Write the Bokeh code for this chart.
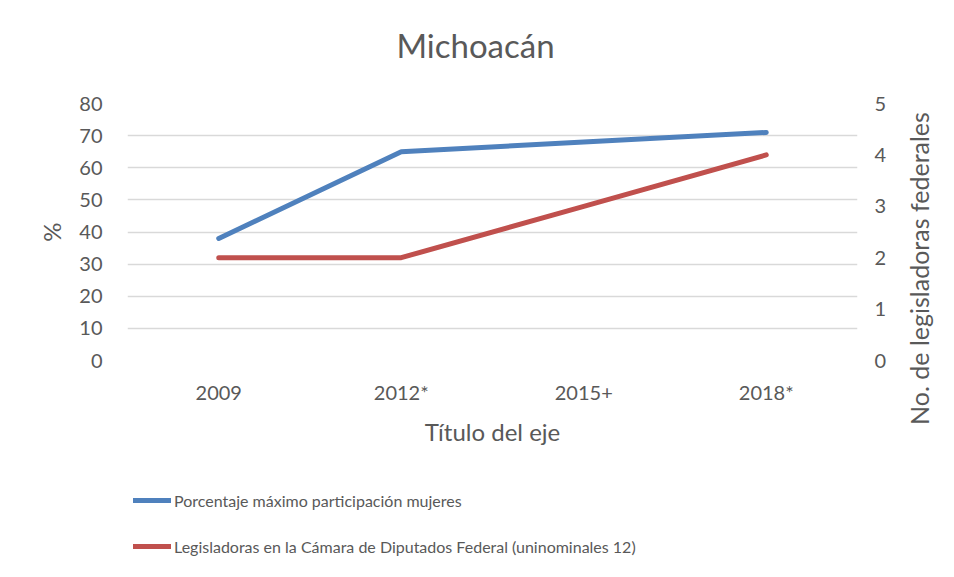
import math
from bokeh.plotting import figure
from bokeh.layouts import column, row
from bokeh.models import (Range1d, LinearAxis, FixedTicker, Legend, LegendItem, FactorRange,
                          Label)
from bokeh.embed import file_html
from bokeh.resources import INLINE

title_text = "Michoacán"
categories = ["2009", "2012*", "2015+", "2018*"]
pct_max = [38, 65, 68, 71]
legisladoras = [2, 2, 3, 4]
left_ticks = [0, 10, 20, 30, 40, 50, 60, 70, 80]
right_ticks = [0, 1, 2, 3, 4, 5]
series_names = ["Porcentaje máximo participación mujeres",
                "Legisladoras en la Cámara de Diputados Federal (uninominales 12)"]
colors = ["#4F81BD", "#C0504D"]
left_title = "%"
right_title = "No. de legisladoras federales"
x_title = "Título del eje"

FONT = "Lato"
GRAY = "#595959"


def blank(fig):
    fig.outline_line_color = None
    fig.grid.grid_line_color = None
    fig.border_fill_color = "white"
    fig.background_fill_color = "white"
    return fig


# header strip with the chart title
header = blank(figure(frame_width=730, frame_height=91, x_range=Range1d(0, 1), y_range=Range1d(0, 1),
                      min_border_left=127, min_border_right=89, min_border_top=0, min_border_bottom=0,
                      x_axis_type=None, y_axis_type=None, output_backend="svg", toolbar_location=None))
header.add_layout(Label(x=348, y=47, x_units="screen", y_units="screen", text=title_text,
                        text_align="center", text_baseline="middle", text_font=FONT,
                        text_font_size="33px", text_color=GRAY))

# main chart
p = figure(frame_width=730, frame_height=257, x_range=FactorRange(*categories, range_padding=0),
           y_range=Range1d(0, 80), output_backend="svg", toolbar_location=None,
           min_border_left=127, min_border_right=40, min_border_top=12, min_border_bottom=110)
p.extra_y_ranges = {"right": Range1d(0, 5)}
p.outline_line_color = None
p.border_fill_color = "white"
p.background_fill_color = "white"

p.xgrid.grid_line_color = None
p.ygrid.grid_line_color = "#D9D9D9"
p.ygrid.grid_line_width = 1.3
p.yaxis.ticker = FixedTicker(ticks=left_ticks)

for ax in [p.xaxis[0], p.yaxis[0]]:
    ax.axis_line_color = None
    ax.major_tick_line_color = None
    ax.minor_tick_line_color = None
    ax.major_label_text_font = FONT
    ax.major_label_text_font_size = "20px"
    ax.major_label_text_color = GRAY
    ax.axis_label_text_font = FONT
    ax.axis_label_text_font_size = "24px"
    ax.axis_label_text_font_style = "normal"
    ax.axis_label_text_color = GRAY

p.yaxis.axis_label = left_title
p.yaxis.major_label_standoff = 19
p.yaxis.axis_label_standoff = 10
p.xaxis.axis_label = x_title
p.xaxis.major_label_standoff = 13
p.xaxis.axis_label_standoff = 10

ra = LinearAxis(y_range_name="right", ticker=FixedTicker(ticks=right_ticks))
ra.axis_line_color = None
ra.major_tick_line_color = None
ra.minor_tick_line_color = None
ra.major_label_text_font = FONT
ra.major_label_text_font_size = "20px"
ra.major_label_text_color = GRAY
ra.major_label_standoff = 11
p.add_layout(ra, "right")

p.line(categories, pct_max, line_color=colors[0], line_width=5, line_cap="round")
p.line(categories, legisladoras, y_range_name="right", line_color=colors[1],
       line_width=5, line_cap="round")

# right strip with the secondary axis title (reads bottom to top)
rstrip = blank(figure(frame_width=49, frame_height=379, x_range=Range1d(0, 1), y_range=Range1d(0, 1),
                      min_border=0, x_axis_type=None, y_axis_type=None,
                      output_backend="svg", toolbar_location=None))
rstrip.add_layout(Label(x=21, y=214, x_units="screen", y_units="screen", text=right_title,
                        angle=math.pi / 2, text_align="center", text_baseline="middle",
                        text_font=FONT, text_font_size="25px", text_color=GRAY))

# legend strip below the chart (its lines lie outside its own view)
lg = blank(figure(frame_width=730, frame_height=99, x_range=FactorRange(*categories),
                  y_range=Range1d(-2, -1), min_border_left=127, min_border_right=89,
                  min_border_top=0, min_border_bottom=0, x_axis_type=None, y_axis_type=None,
                  output_backend="svg", toolbar_location=None))
k1 = lg.line(categories, pct_max, line_color=colors[0], line_width=5, line_cap="round")
k2 = lg.line(categories, legisladoras, line_color=colors[1], line_width=5, line_cap="round")
legend = Legend(items=[LegendItem(label=series_names[0], renderers=[k1]),
                       LegendItem(label=series_names[1], renderers=[k2])],
                location=(6, 13), orientation="vertical",
                label_text_font=FONT, label_text_font_size="16px", label_text_color=GRAY,
                glyph_width=38, glyph_height=20, label_standoff=3, spacing=26,
                border_line_color=None, background_fill_alpha=0, padding=0, margin=0)
lg.add_layout(legend, "center")

layout = column(header, row(p, rstrip, spacing=0), lg, spacing=0)
open("out.html", "w").write(file_html(layout, INLINE))
